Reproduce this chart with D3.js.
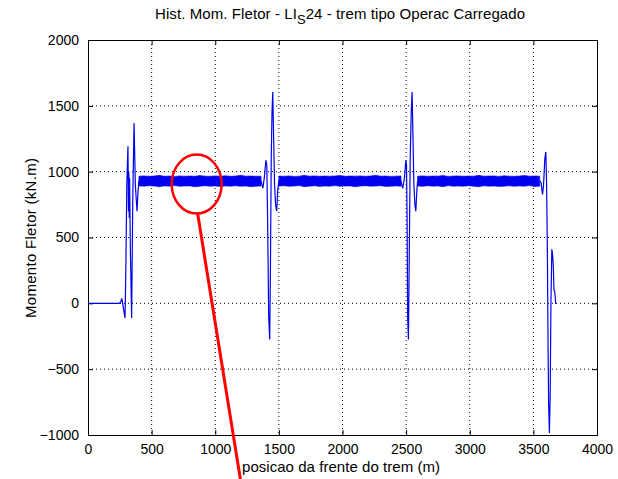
<!DOCTYPE html>
<html>
<head>
<meta charset="utf-8">
<script src="https://cdn.jsdelivr.net/npm/d3@7"></script>
<style>
  body { margin: 0; background: #fff; }
  text { font-family: "Liberation Sans", Arial, sans-serif; fill: #000; }
</style>
</head>
<body>
<script>
// chart box, same place as the matlab figure
const SCREEN = { width: 618, height: 479, left: 88, top: 40, right: 21, bottom: 44 };
SCREEN.innerWidth = SCREEN.width - SCREEN.left - SCREEN.right;
SCREEN.innerHeight = SCREEN.height - SCREEN.top - SCREEN.bottom;

const xTicks = [0, 500, 1000, 1500, 2000, 2500, 3000, 3500, 4000];
const yTicks = [-1000, -500, 0, 500, 1000, 1500, 2000];

// transients (x in m, moment in kN.m)
const entrySpike = [[0,0],[245,0],[258,12],[265,38],[272,5],[282,-60],[291,-111],[298,300],[305,900],[314,1193],[318,700],[321,1000],[324,650],[327,950],[333,400],[343,-111],[352,800],[362,1370],[372,900],[385,700],[393,850],[400,930]];
const spike2 = [[1360,930],[1368,900],[1374,874],[1385,950],[1398,1087],[1405,1050],[1412,600],[1420,-100],[1428,-274],[1434,300],[1440,1100],[1446,1450],[1452,1605],[1458,1300],[1466,900],[1474,750],[1483,700],[1490,850],[1500,930]];
const spike3 = [[2460,930],[2466,900],[2474,874],[2486,950],[2498,1087],[2503,1050],[2508,600],[2512,-100],[2518,-274],[2524,300],[2532,1100],[2540,1450],[2547,1605],[2553,1300],[2561,900],[2569,750],[2576,700],[2584,850],[2590,930]];
const exitSpike = [[3550,930],[3561,915],[3566,870],[3572,828],[3580,900],[3590,1100],[3598,1150],[3604,900],[3610,400],[3616,-400],[3620,-767],[3626,-985],[3632,-700],[3638,0],[3645,410],[3650,380],[3656,300],[3662,100],[3668,90],[3676,-5]];

// the dense oscillation between the spikes shows as a band; envelopes every 40 m
const bandStep = 40;
const band1Start = 400, band2Start = 1500, band3Start = 2590;
const band1Upper = [966,968,965,967,972,965,967,964,968,966,967,965,971,966,965,968,966,969,965,967,973,966,967,965,966];
const band1Lower = [892,890,893,891,886,892,890,894,889,891,892,885,890,893,890,891,888,892,890,893,889,891,886,890,892];
const band2Upper = [967,965,968,964,966,972,966,968,965,967,966,967,971,965,967,966,968,965,967,973,966,967,964,966,968];
const band2Lower = [891,893,889,891,894,886,890,893,888,891,890,894,889,891,892,885,891,893,890,891,893,888,890,892,890];
const band3Upper = [966,968,965,967,966,971,964,967,968,965,967,966,972,966,967,968,964,969,966,965,967,971,966,967,966];
const band3Lower = [891,889,893,890,892,886,894,890,891,889,893,890,885,893,890,891,888,890,893,889,892,890,894,887,890];

// red callout, in data units
const callout = { cx: 854, cy: 906, lineFrom: [862, 680], lineTo: [1199, -1345] };

const svg = d3.select('body').append('svg')
    .attr('width', SCREEN.width)
    .attr('height', SCREEN.height);

const x = d3.scaleLinear().domain([0, 4000]).range([0, SCREEN.innerWidth]);
const y = d3.scaleLinear().domain([-1000, 2000]).range([SCREEN.innerHeight, 0]);

const canvas = svg.append('g')
    .attr('transform', `translate(${SCREEN.left},${SCREEN.top})`);

// dotted grid
canvas.append('g').selectAll('line')
    .data(xTicks.slice(1, -1))
    .join('line')
    .attr('x1', d => x(d)).attr('x2', d => x(d))
    .attr('y1', 0).attr('y2', SCREEN.innerHeight)
    .attr('stroke', '#000').attr('stroke-dasharray', '1,3');
canvas.append('g').selectAll('line')
    .data(yTicks.slice(1, -1))
    .join('line')
    .attr('y1', d => y(d)).attr('y2', d => y(d))
    .attr('x1', 0).attr('x2', SCREEN.innerWidth)
    .attr('stroke', '#000').attr('stroke-dasharray', '1,3');

// axes, ticks pointing inward like matlab
const xAxis = canvas.append('g')
    .attr('transform', `translate(0,${SCREEN.innerHeight})`)
    .call(d3.axisBottom(x).tickValues(xTicks).tickSize(-5).tickPadding(9).tickFormat(d3.format('d')));
const xAxisTop = canvas.append('g')
    .call(d3.axisTop(x).tickValues(xTicks).tickSize(-5).tickFormat(''));
const yAxis = canvas.append('g')
    .call(d3.axisLeft(y).tickValues(yTicks).tickSize(-5).tickPadding(9).tickFormat(d3.format('d')));
const yAxisRight = canvas.append('g')
    .attr('transform', `translate(${SCREEN.innerWidth},0)`)
    .call(d3.axisRight(y).tickValues(yTicks).tickSize(-5).tickFormat(''));

[xAxis, xAxisTop, yAxis, yAxisRight].forEach(g => {
    g.select('.domain').attr('stroke', '#000');
    g.selectAll('.tick line').attr('stroke', '#000');
    g.selectAll('.tick text').attr('font-size', 14).attr('font-family', '"Liberation Sans", Arial, sans-serif');
});

// signal
const line = d3.line().x(d => x(d[0])).y(d => y(d[1]));
const area = d3.area().x(d => x(d.x)).y0(d => y(d.lo)).y1(d => y(d.hi));
const bandRows = (start, up, lo) => up.map((v, i) => ({ x: start + i * bandStep, hi: v, lo: lo[i] }));

const plot = canvas.append('g');
[[band1Start, band1Upper, band1Lower], [band2Start, band2Upper, band2Lower], [band3Start, band3Upper, band3Lower]]
    .forEach(b => {
        plot.append('path')
            .datum(bandRows(b[0], b[1], b[2]))
            .attr('d', area)
            .attr('fill', '#0000ee')
            .attr('stroke', '#0000ee')
            .attr('stroke-width', 0.6);
    });
[entrySpike, spike2, spike3, exitSpike].forEach(s => {
    plot.append('path')
        .datum(s)
        .attr('d', line)
        .attr('fill', 'none')
        .attr('stroke', '#0000ee')
        .attr('stroke-width', 1.2);
});

// title with the subscript
const title = svg.append('text')
    .attr('x', 340)
    .attr('y', 18.5)
    .attr('text-anchor', 'middle')
    .attr('font-size', 15)
    .attr('textLength', 370)
    .attr('lengthAdjust', 'spacing');
title.append('tspan').text('Hist. Mom. Fletor - LI');
title.append('tspan').attr('baseline-shift', '-35%').attr('font-size', 13).text('S');
title.append('tspan').text('24 - trem tipo Operac Carregado');

svg.append('text')
    .attr('x', 341)
    .attr('y', 472)
    .attr('text-anchor', 'middle')
    .attr('font-size', 15)
    .attr('textLength', 198)
    .attr('lengthAdjust', 'spacing')
    .text('posicao da frente do trem (m)');

svg.append('text')
    .attr('transform', `translate(36,238) rotate(-90)`)
    .attr('text-anchor', 'middle')
    .attr('font-size', 15)
    .attr('textLength', 160)
    .attr('lengthAdjust', 'spacing')
    .text('Momento Fletor (kN.m)');

// red callout on top of everything
svg.append('line')
    .attr('x1', SCREEN.left + x(callout.lineFrom[0])).attr('y1', SCREEN.top + y(callout.lineFrom[1]))
    .attr('x2', SCREEN.left + x(callout.lineTo[0])).attr('y2', SCREEN.top + y(callout.lineTo[1]))
    .attr('stroke', '#ff0000').attr('stroke-width', 3);
svg.append('ellipse')
    .attr('cx', SCREEN.left + x(callout.cx))
    .attr('cy', SCREEN.top + y(callout.cy))
    .attr('rx', 25).attr('ry', 29.5)
    .attr('fill', 'none')
    .attr('stroke', '#ff0000').attr('stroke-width', 2.5);
</script>
</body>
</html>
